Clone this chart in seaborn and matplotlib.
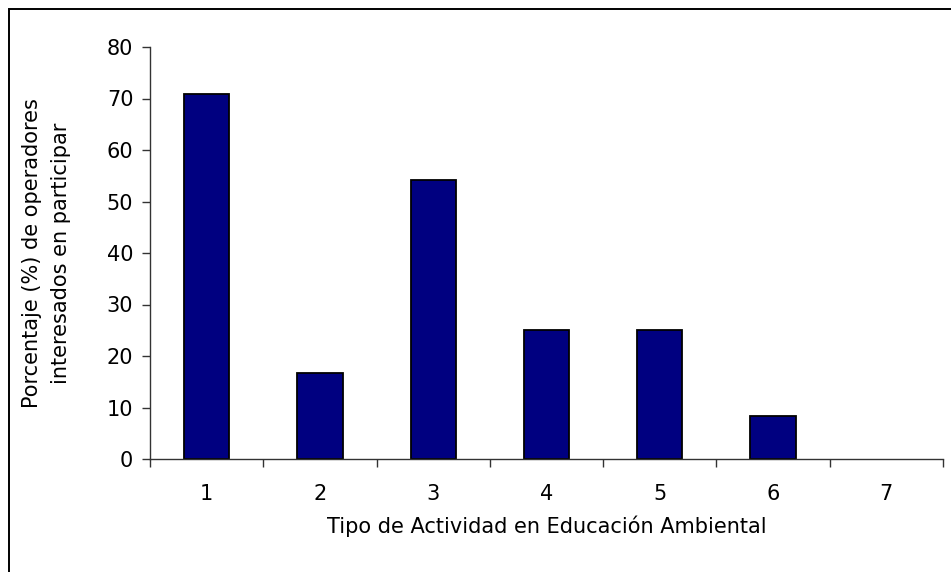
import matplotlib
matplotlib.use("Agg")
import matplotlib.pyplot as plt
import pandas as pd
import seaborn as sns
from matplotlib.patches import Rectangle

# Data
actividades = ["1", "2", "3", "4", "5", "6", "7"]
porcentajes = [70.8, 16.7, 54.2, 25.0, 25.0, 8.3, 0.0]

df = pd.DataFrame({"actividad": actividades, "porcentaje": porcentajes})

sns.set_theme(style="white", rc={"text.color": "black", "axes.labelcolor": "black",
                                 "xtick.color": "black", "ytick.color": "black"})
plt.rcParams["font.family"] = ["DejaVu Sans"]

fig = plt.figure(figsize=(9.51, 5.72), dpi=100)
ax = fig.add_axes([150 / 951, 1 - 459 / 572, 793 / 951, 412 / 572])

sns.barplot(data=df, x="actividad", y="porcentaje", color="#000080",
            saturation=1, width=0.4, edgecolor="black", linewidth=1.3, ax=ax)

# an empty category shows no outline in the original
for bar, val in zip(ax.patches, porcentajes):
    if val == 0:
        bar.set_edgecolor("none")

ax.set_xlim(-0.5, len(actividades) - 0.5)
ax.set_ylim(0, 80)
ax.set_yticks(range(0, 81, 10))

# category ticks sit at the boundaries, labels in the middle
ax.set_xticks([i - 0.5 for i in range(len(actividades) + 1)], minor=False)
ax.set_xticklabels([])
ax.set_xticks(range(len(actividades)), minor=True)
ax.set_xticklabels(actividades, minor=True)
ax.tick_params(axis="x", which="major", bottom=True, direction="out", length=6,
               width=1, color="#333333")
ax.tick_params(axis="x", which="minor", bottom=True, length=0, pad=18, labelsize=15)
ax.tick_params(axis="y", left=True, direction="out", length=6, width=1,
               color="#333333", labelsize=15, pad=6)

sns.despine(ax=ax, top=True, right=True)
for side in ("left", "bottom"):
    ax.spines[side].set_color("#333333")
    ax.spines[side].set_linewidth(1)

ax.set_xlabel("Tipo de Actividad en Educación Ambiental", fontsize=15, labelpad=8)
ax.set_ylabel("Porcentaje (%) de operadores\ninteresados en participar",
              fontsize=15, labelpad=26, linespacing=1.55)

# chart-area frame (top and left edges visible)
fig.patches.append(Rectangle((9 / 951, -0.1), 2, 1.1 - 9 / 572,
                             transform=fig.transFigure, fill=False,
                             edgecolor="black", linewidth=1.4))

fig.savefig("out.png", dpi=100)
